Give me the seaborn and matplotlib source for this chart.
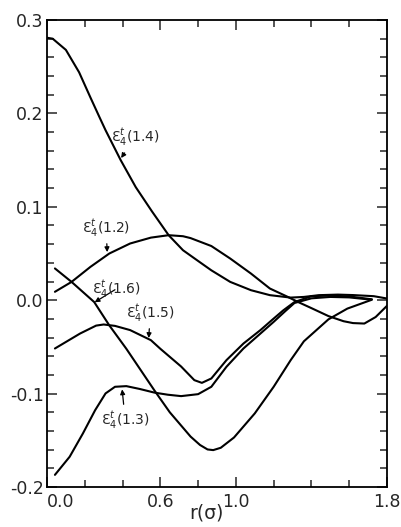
import matplotlib
matplotlib.use('Agg')
import matplotlib.pyplot as plt
import seaborn as sns
from matplotlib.ticker import MultipleLocator

sns.set_style('ticks')
plt.rcParams['font.family'] = ['DejaVu Sans']
plt.rcParams['mathtext.fontset'] = 'dejavusans'

# curves, r in units of sigma
r14 = [0.0, 0.03, 0.10, 0.17, 0.23, 0.28, 0.31, 0.35, 0.39, 0.47, 0.556, 0.644, 0.72, 0.80,
       0.87, 0.97, 1.08, 1.18, 1.29, 1.36, 1.44, 1.54, 1.62, 1.73, 1.80]
e14 = [0.281, 0.280, 0.268, 0.244, 0.217, 0.195, 0.182, 0.166, 0.150, 0.121, 0.095, 0.0696, 0.0535, 0.042,
       0.032, 0.0196, 0.0107, 0.0054, 0.0028, 0.0035, 0.0054, 0.006, 0.0055, 0.0043, 0.0018]

r12 = [0.042, 0.13, 0.23, 0.33, 0.44, 0.55, 0.644, 0.72, 0.76, 0.87, 0.97, 1.08, 1.18,
       1.27, 1.33, 1.40, 1.49, 1.57, 1.62, 1.68, 1.74, 1.80]
e12 = [0.009, 0.0196, 0.0357, 0.050, 0.0607, 0.067, 0.0696, 0.0685, 0.0665, 0.058, 0.0446, 0.0285, 0.0125,
       0.004, -0.002, -0.0085, -0.017, -0.0225, -0.0245, -0.025, -0.018, -0.006]

r16 = [0.042, 0.13, 0.25, 0.33, 0.42, 0.49, 0.57, 0.65, 0.76, 0.81, 0.85, 0.88, 0.92, 0.99,
       1.10, 1.20, 1.29, 1.36, 1.49, 1.59, 1.72]
e16 = [0.034, 0.0196, -0.002, -0.027, -0.052, -0.073, -0.097, -0.120, -0.146, -0.155, -0.1598, -0.1605, -0.158, -0.147,
       -0.1212, -0.0927, -0.0642, -0.044, -0.0205, -0.009, 0.0005]

r15 = [0.042, 0.175, 0.26, 0.30, 0.36, 0.44, 0.55, 0.60, 0.71, 0.78, 0.82, 0.87, 0.95, 1.04, 1.13,
       1.19, 1.25, 1.31, 1.40, 1.50, 1.60, 1.72]
e15 = [-0.0517, -0.0357, -0.0272, -0.026, -0.0275, -0.032, -0.0428, -0.052, -0.071, -0.0856, -0.0885, -0.0838, -0.0642, -0.0464, -0.032,
       -0.0214, -0.011, -0.002, 0.0043, 0.005, 0.004, 0.001]

r13 = [0.042, 0.12, 0.19, 0.255, 0.31, 0.36, 0.42, 0.49, 0.57, 0.64, 0.71, 0.80, 0.87,
       0.95, 1.04, 1.13, 1.20, 1.26, 1.31, 1.40, 1.50, 1.60, 1.71]
e13 = [-0.187, -0.1676, -0.1427, -0.1177, -0.0998, -0.0927, -0.092, -0.095, -0.099, -0.1012, -0.1027, -0.1006, -0.0927,
       -0.0713, -0.0517, -0.0357, -0.0232, -0.012, -0.003, 0.002, 0.0035, 0.003, 0.0007]

# label text, label centre, arrow tip
labels = ['(1.4)', '(1.2)', '(1.6)', '(1.5)', '(1.3)']
label_pos = [(0.467, 0.174), (0.313, 0.077), (0.366, 0.012), (0.547, -0.014), (0.414, -0.128)]
arrow_tip = [(0.388, 0.151), (0.319, 0.050), (0.246, -0.003), (0.538, -0.042), (0.397, -0.094)]

xtick_vals = [0.0, 0.6, 1.0, 1.8]
xtick_labels = ['0.0', '0.6', '1.0', '1.8']
ytick_vals = [-0.2, -0.1, 0.0, 0.1, 0.2, 0.3]
ytick_labels = ['-0.2', '-0.1', '0.0', '0.1', '0.2', '0.3']

fig = plt.figure(figsize=(4.01, 5.27), dpi=100)
ax = fig.add_axes([47/401, 1 - 487/527, 340/401, 467/527])

for xs, ys in [(r14, e14), (r12, e12), (r16, e16), (r15, e15), (r13, e13)]:
    sns.lineplot(x=xs, y=ys, ax=ax, color='black', linewidth=1.5, sort=False, estimator=None)

for lab, pos, tip in zip(labels, label_pos, arrow_tip):
    ax.annotate('\u0190' + r'$^{t}_{4}$' + lab, xy=tip, xytext=pos, ha='center', va='center',
                fontsize=10,
                arrowprops=dict(arrowstyle='-|>', color='black', lw=0.9, mutation_scale=7,
                                shrinkA=1, shrinkB=1))

ax.set_xlim(0, 1.8)
ax.set_ylim(-0.2, 0.3)

ax.set_xticks(xtick_vals)
ax.set_xticklabels(xtick_labels)
ax.get_xticklabels()[0].set_horizontalalignment('left')
ax.set_xticks([0.2, 0.4, 0.8, 1.2, 1.4, 1.6], minor=True)
ax.set_yticks(ytick_vals)
ax.set_yticklabels(ytick_labels)
ax.yaxis.set_minor_locator(MultipleLocator(0.02))

ax.tick_params(which='both', direction='in', top=True, right=True, labelsize=12.5, width=1.1)
ax.tick_params(which='major', length=7)
ax.tick_params(which='minor', length=5)
ax.tick_params(axis='y', pad=2.5)
ax.tick_params(axis='x', pad=4)

for s in ax.spines.values():
    s.set_linewidth(1.3)
    s.set_color('black')

ax.set_xlabel('r(σ)', fontsize=13.5)
ax.xaxis.set_label_coords(0.47, -0.035)
ax.set_ylabel('')

fig.savefig('out.png', dpi=100)
